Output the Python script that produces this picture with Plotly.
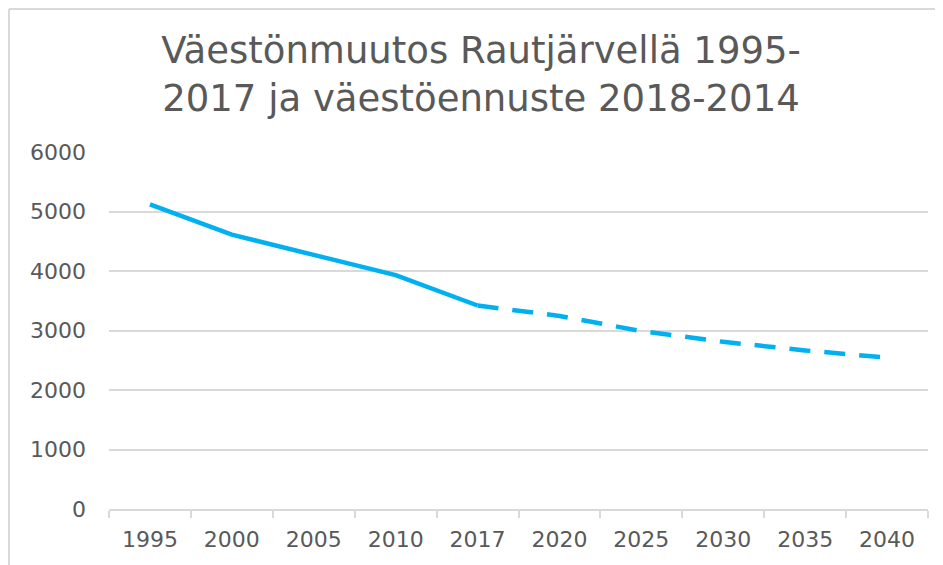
import plotly.graph_objects as go

years = ["1995", "2000", "2005", "2010", "2017", "2020", "2025", "2030", "2035", "2040"]
actual_years = ["1995", "2000", "2005", "2010", "2017"]
actual_values = [5120, 4610, 4270, 3930, 3420]
forecast_years = ["2017", "2020", "2025", "2030", "2035", "2040"]
forecast_values = [3420, 3245, 2990, 2810, 2665, 2545]
y_ticks = [0, 1000, 2000, 3000, 4000, 5000, 6000]
title_text = "Väestönmuutos Rautjärvellä 1995-<br>2017 ja väestöennuste 2018-2014"

line_color = "#00b0f0"
grid_color = "#d9d9d9"
text_color = "#595959"
font_family = "DejaVu Sans, Verdana, sans-serif"

fig = go.Figure()
fig.add_trace(go.Scatter(x=actual_years, y=actual_values, mode="lines",
                         line=dict(color=line_color, width=4.5), showlegend=False,
                         hoverinfo="x+y"))
fig.add_trace(go.Scatter(x=forecast_years, y=forecast_values, mode="lines",
                         line=dict(color=line_color, width=4.5, dash="21px,14px"),
                         showlegend=False, hoverinfo="x+y"))

# page has an 8px body offset
L, R, T, B = 101, 23, 144, 64
W, H = 943, 565
pw = W - L - R
ph = H - T - B

fig.update_layout(
    width=W, height=H,
    margin=dict(l=L, r=R, t=T, b=B),
    paper_bgcolor="white", plot_bgcolor="white",
    font=dict(family=font_family, color=text_color, size=22),
    title=dict(text=title_text, x=(481 - 8 - L) / pw, xref="paper", xanchor="center",
               y=1 - 55 / H, yref="container", yanchor="top",
               font=dict(size=37, color=text_color, family=font_family)),
    xaxis=dict(type="category", categoryorder="array", categoryarray=years,
               range=[-0.5, 9.5], showgrid=False, showline=True, linecolor=grid_color,
               linewidth=2, ticks="outside", tickson="boundaries", ticklen=7,
               tickcolor=grid_color, tickwidth=2, tickfont=dict(size=22, color=text_color),
               ticklabelstandoff=10, fixedrange=True),
    yaxis=dict(range=[0, 6000], tickvals=y_ticks, showgrid=True, gridcolor=grid_color,
               gridwidth=1.5, zeroline=False, showline=False, ticks="",
               tickfont=dict(size=22, color=text_color), ticklabelstandoff=22,
               fixedrange=True),
    shapes=[
        dict(type="line", xref="paper", yref="paper",
             x0=(1 - L) / pw, x1=(1 - L) / pw, y0=-(B + 20) / ph, y1=1 + (T - 1) / ph,
             line=dict(color=grid_color, width=2)),
        dict(type="line", xref="paper", yref="paper",
             x0=(1 - L) / pw, x1=1 + (R + 20) / pw, y0=1 + (T - 1) / ph, y1=1 + (T - 1) / ph,
             line=dict(color=grid_color, width=2)),
    ],
)

fig.write_html("out.html")
